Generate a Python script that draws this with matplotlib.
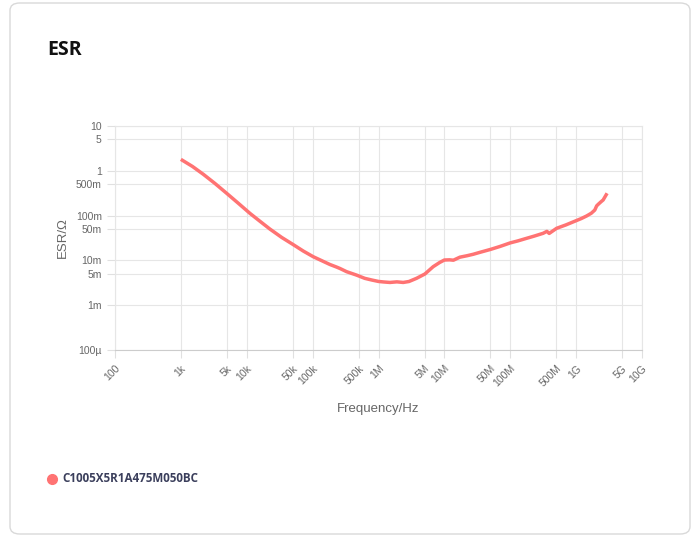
import numpy as np
import matplotlib.pyplot as plt
from matplotlib.patches import FancyBboxPatch

# ESR curve
freq = [1e3, 1.5e3, 2.19e3, 3.3e3, 4.95e3, 7.4e3, 1.12e4, 1.6e4, 2.25e4, 3.4e4,
        5.08e4, 7.2e4, 1.02e5, 1.83e5, 2.31e5, 2.6e5, 3.28e5, 4.64e5, 6.17e5, 7.9e5,
        1e6, 1.2e6, 1.49e6, 1.9e6, 2.37e6, 2.9e6, 3.78e6, 5.06e6,
        6.76e6, 8.5e6, 1e7, 1.2e7, 1.37e7, 1.72e7, 2.2e7, 2.74e7, 3.5e7, 5.02e7,
        7e7, 1e8, 1.3e8, 1.77e8, 2.3e8, 3.16e8, 3.6e8, 3.9e8, 5.05e8, 7e8,
        1e9, 1.2e9, 1.44e9, 1.7e9, 1.92e9, 2.05e9, 2.16e9, 2.4e9, 2.57e9, 2.95e9]
esr = [1.8, 1.25, 0.836, 0.52, 0.315, 0.19, 0.112, 0.074, 0.050, 0.0325,
       0.0225, 0.0162, 0.0121, 0.0081, 0.0071, 0.0066, 0.0056, 0.0047, 0.00398, 0.00365,
       0.00339, 0.0033, 0.00322, 0.00332, 0.00322, 0.00338, 0.00398, 0.00497,
       0.00724, 0.0090, 0.0102, 0.0103, 0.0101, 0.0118, 0.0127, 0.0137, 0.0152, 0.0176,
       0.0205, 0.0246, 0.0272, 0.0311, 0.0348, 0.0403, 0.0445, 0.040, 0.052, 0.062,
       0.077, 0.086, 0.098, 0.113, 0.133, 0.165, 0.178, 0.205, 0.223, 0.315]

xticks = [1e2, 1e3, 5e3, 1e4, 5e4, 1e5, 5e5, 1e6, 5e6, 1e7, 5e7, 1e8, 5e8, 1e9, 5e9, 1e10]
xlabels = ['100', '1k', '5k', '10k', '50k', '100k', '500k', '1M', '5M', '10M',
           '50M', '100M', '500M', '1G', '5G', '10G']
yticks = [1e-4, 1e-3, 5e-3, 1e-2, 5e-2, 1e-1, 5e-1, 1, 5, 10]
ylabels = ['100µ', '1m', '5m', '10m', '50m', '100m', '500m', '1', '5', '10']

part = 'C1005X5R1A475M050BC'
col = '#ff7373'

fig = plt.figure(figsize=(6.99, 5.37), dpi=100)
card = FancyBboxPatch((10/699, 3/537), 680/699, 531/537,
                      boxstyle='round,pad=0,rounding_size=0.014',
                      transform=fig.transFigure, facecolor='white',
                      edgecolor='#d9d9d9', linewidth=1, zorder=-5)
fig.patches.append(card)

ax = fig.add_axes([115/699, 1 - 350/537, 527/699, 224/537])
ax.patch.set_alpha(0)
ax.plot(freq, esr, color=col, lw=2.5, solid_capstyle='butt')
ax.set_xscale('log')
ax.set_yscale('log')
ax.set_xlim(1e2, 1e10)
ax.set_ylim(1e-4, 10)
ax.set_xticks(xticks)
ax.set_xticklabels(xlabels, rotation=45, ha='right', rotation_mode='anchor')
ax.set_yticks(yticks)
ax.set_yticklabels(ylabels)
ax.minorticks_off()
ax.tick_params(axis='both', colors='#e0e0e0', labelcolor='#666666',
               labelsize=7.5, length=6, width=0.8)
for lab in ax.get_xticklabels() + ax.get_yticklabels():
    lab.set_family('Liberation Sans')
ax.grid(True, color='#e6e6e6', lw=0.8)
for s in ['top', 'right', 'left']:
    ax.spines[s].set_color('#e6e6e6')
ax.spines['bottom'].set_color('#cccccc')
ax.set_xlabel('Frequency/Hz', color='#666666', fontsize=9.5,
              family='Liberation Sans', labelpad=10)
ax.set_ylabel('ESR/Ω', color='#666666', fontsize=9.5,
              family='Liberation Sans', labelpad=5)

fig.text(47/699, 1 - 50/537, 'ESR', fontsize=14, fontweight='bold',
         family='Open Sans', va='center', color='#111111')
fig.lines.append(plt.Line2D([52/699], [1 - 479/537], marker='o', ms=7,
                            color=col, transform=fig.transFigure))
fig.text(62/699, 1 - 479/537, part, fontsize=8.4, fontweight='bold',
         family='Open Sans', va='center', color='#3b3f5c')

fig.savefig('out.png', dpi=100)
